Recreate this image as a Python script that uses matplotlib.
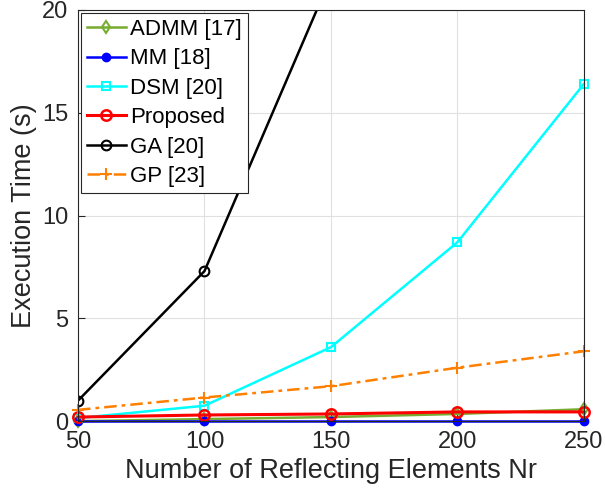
import matplotlib.pyplot as plt

plt.rcParams['font.family'] = ['Liberation Sans', 'DejaVu Sans']

# data
n_elements = [50, 100, 150, 200, 250]
admm = [0.0, 0.1, 0.2, 0.35, 0.58]
mm = [0.0, 0.0, 0.0, 0.0, 0.0]
dsm = [0.15, 0.75, 3.6, 8.7, 16.4]
proposed = [0.2, 0.3, 0.35, 0.45, 0.45]
ga = [1.0, 7.3, 21.6, 45.0, 85.0]
gp = [0.55, 1.15, 1.7, 2.6, 3.4]

fig = plt.figure(figsize=(6.05, 4.99), dpi=100)
ax = fig.add_axes([0.129, 0.156, 0.836, 0.824])

ax.plot(n_elements, admm, color=(0.466, 0.674, 0.188), marker='d', mfc='none',
        ms=6, mew=1.5, lw=1.8, label='ADMM [17]', clip_on=False)
ax.plot(n_elements, mm, color='b', marker='o', ms=6, lw=1.8, label='MM [18]', clip_on=False)
ax.plot(n_elements, dsm, color='cyan', marker='s', mfc='none', ms=6, mew=1.5,
        lw=1.8, label='DSM [20]', clip_on=False)
ax.plot(n_elements, proposed, color='r', marker='o', mfc='none', ms=7.5, mew=1.8,
        lw=2.2, label='Proposed', clip_on=False)
ax.plot(n_elements, ga, color='k', marker='o', mfc='none', ms=7, mew=1.5,
        lw=1.8, label='GA [20]')
ax.plot(n_elements, gp, color=(1.0, 0.5, 0.0), marker='+', ms=8, mew=1.5,
        lw=1.8, ls=(0, (5, 2, 1.5, 2)), label='GP [23]', clip_on=False)

ax.set_xlim(50, 250)
ax.set_ylim(0, 20)
ax.set_xticks(n_elements)
ax.set_yticks([0, 5, 10, 15, 20])
ax.grid(True, color='#e0e0e0', lw=0.8)
ax.set_axisbelow(True)
ax.tick_params(direction='in', labelsize=17, length=5, color='#262626', labelcolor='#262626', pad=7)
for s in ax.spines.values():
    s.set_color('#262626')

ax.set_xlabel('Number of Reflecting Elements Nr', fontsize=19.5, color='#262626')
ax.set_ylabel('Execution Time (s)', fontsize=19.5, color='#262626', labelpad=4)

leg = ax.legend(loc='upper left', fontsize=16, fancybox=False, edgecolor='#262626',
                borderaxespad=0.15, handlelength=1.75, handletextpad=0.2,
                labelspacing=0.38, borderpad=0.25, framealpha=1)
leg.get_frame().set_linewidth(0.8)

fig.savefig('out.png', dpi=100)
